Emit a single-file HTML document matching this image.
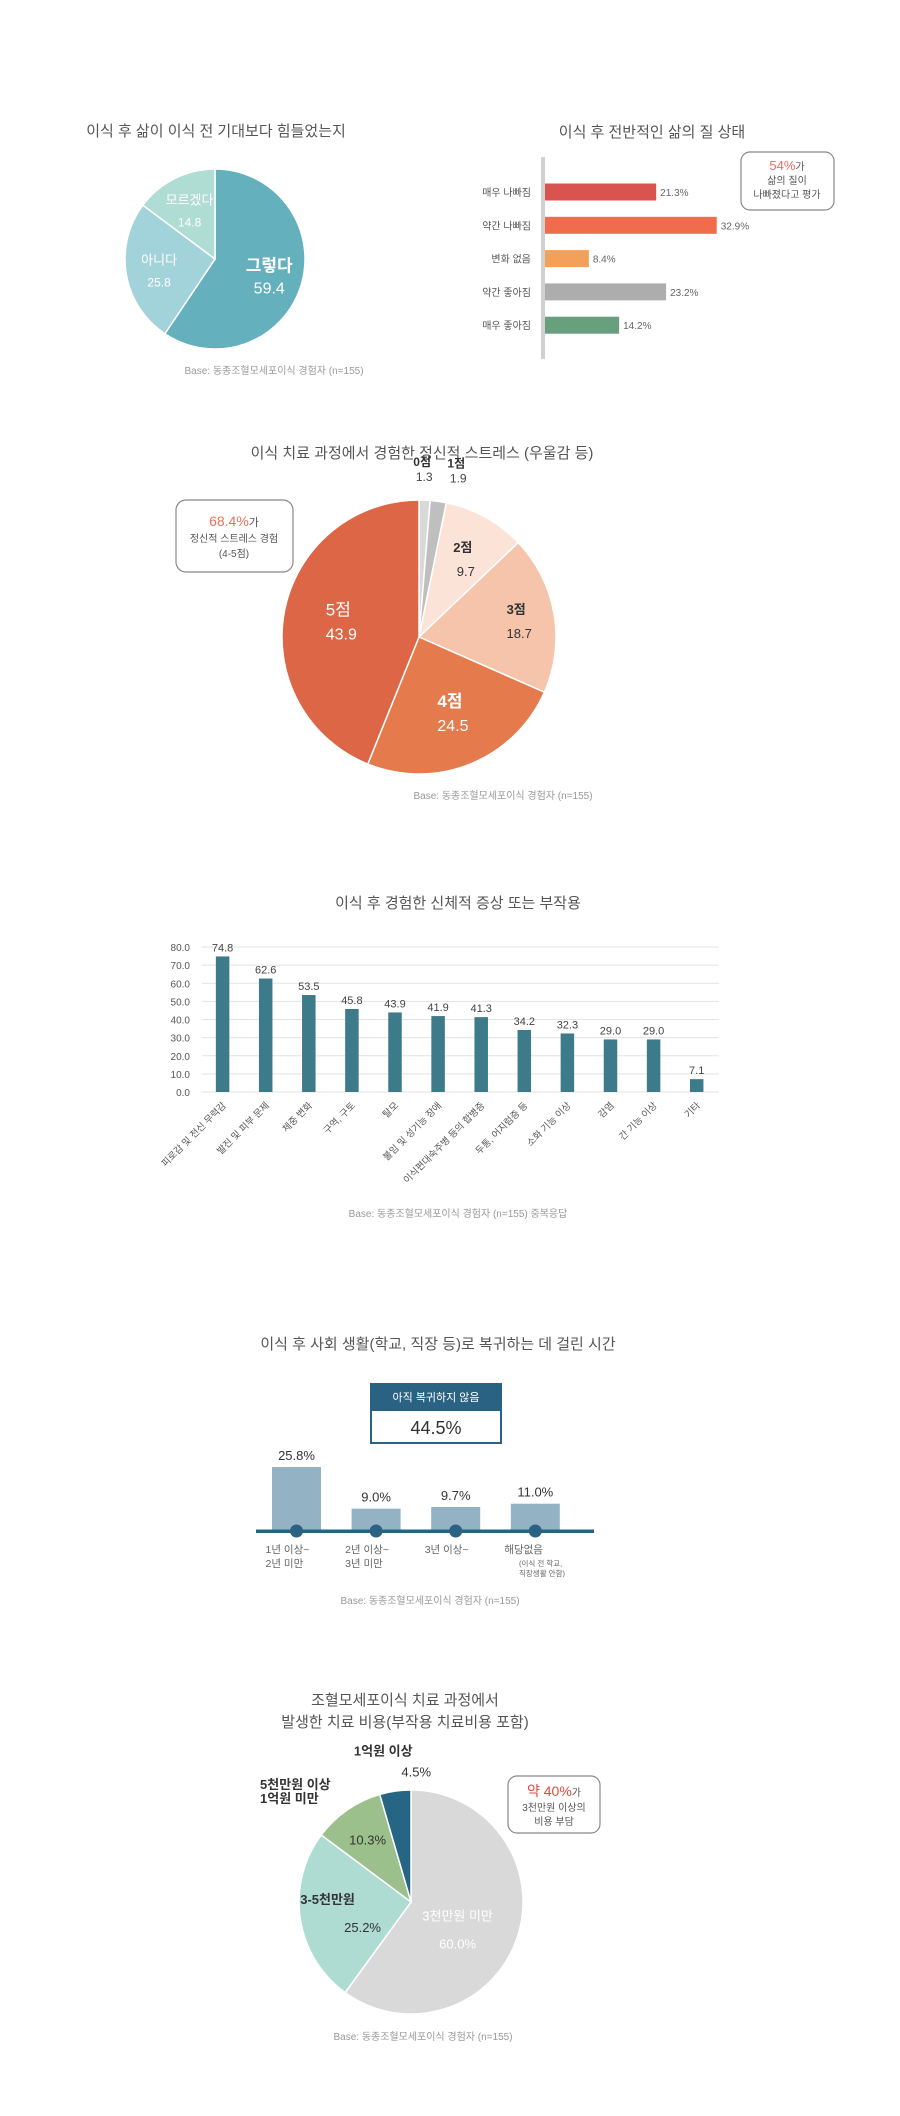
<!DOCTYPE html>
<html><head><meta charset="utf-8"><style>
html,body{margin:0;padding:0;background:#fff;}
svg{display:block;font-family:"Liberation Sans","Noto Sans CJK KR",sans-serif;}
</style></head><body>
<svg id="page" width="900" height="2116" viewBox="0 0 900 2116" xmlns="http://www.w3.org/2000/svg">
<g id="c1">
<text x="216" y="136" text-anchor="middle" font-size="15" fill="#555">이식 후 삶이 이식 전 기대보다 힘들었는지</text>
<text x="274" y="374" text-anchor="middle" font-size="10" fill="#999">Base: 동종조혈모세포이식 경험자 (n=155)</text>
</g>
<g id="c2">
<text x="652" y="137" text-anchor="middle" font-size="15" fill="#555">이식 후 전반적인 삶의 질 상태</text>
<rect x="541" y="157" width="4" height="202" fill="#d0d0d0"/>
<g>
<rect x="741" y="152" width="93" height="58" rx="9" fill="#fff" stroke="#888" stroke-width="1.2"/>
<text x="787" y="170" text-anchor="middle" font-size="13" fill="#e8705f">54%<tspan font-size="10" fill="#555">가</tspan></text>
<text x="787" y="184" text-anchor="middle" font-size="10" fill="#555">삶의 질이</text>
<text x="787" y="198" text-anchor="middle" font-size="10" fill="#555">나빠졌다고 평가</text>
</g>
</g>
<g id="c3">
<text x="422" y="458" text-anchor="middle" font-size="15" fill="#555">이식 치료 과정에서 경험한 정신적 스트레스 (우울감 등)</text>
<g>
<rect x="176" y="500" width="117" height="72" rx="10" fill="#fff" stroke="#888" stroke-width="1.2"/>
<text x="234" y="526" text-anchor="middle" font-size="14" fill="#e8705f">68.4%<tspan font-size="11" fill="#555">가</tspan></text>
<text x="234" y="542" text-anchor="middle" font-size="10" fill="#555">정신적 스트레스 경험</text>
<text x="234" y="557" text-anchor="middle" font-size="10" fill="#555">(4-5점)</text>
</g>
<text x="503" y="799" text-anchor="middle" font-size="10" fill="#999">Base: 동종조혈모세포이식 경험자 (n=155)</text>
</g>
<g id="c4">
<text x="458" y="908" text-anchor="middle" font-size="15" fill="#555">이식 후 경험한 신체적 증상 또는 부작용</text>
<text x="458" y="1217" text-anchor="middle" font-size="10" fill="#999">Base: 동종조혈모세포이식 경험자 (n=155) 중복응답</text>
</g>
<g id="c5">
<text x="438" y="1349" text-anchor="middle" font-size="15" fill="#555">이식 후 사회 생활(학교, 직장 등)로 복귀하는 데 걸린 시간</text>
<g>
<rect x="371" y="1384" width="130" height="59" fill="#fff" stroke="#2a6283" stroke-width="2"/>
<rect x="371" y="1384" width="130" height="27" fill="#2a6283"/>
<text x="436" y="1401" text-anchor="middle" font-size="11" fill="#fff">아직 복귀하지 않음</text>
<text x="436" y="1434" text-anchor="middle" font-size="18" fill="#333">44.5%</text>
</g>
<text x="430" y="1604" text-anchor="middle" font-size="10" fill="#999">Base: 동종조혈모세포이식 경험자 (n=155)</text>
</g>
<g id="c6">
<text x="405" y="1705" text-anchor="middle" font-size="15" fill="#555">조혈모세포이식 치료 과정에서</text>
<text x="405" y="1727" text-anchor="middle" font-size="15" fill="#555">발생한 치료 비용(부작용 치료비용 포함)</text>
<g>
<rect x="508" y="1776" width="92" height="57" rx="9" fill="#fff" stroke="#888" stroke-width="1.2"/>
<text x="554" y="1796" text-anchor="middle" font-size="14" fill="#e8473c">약 40%<tspan font-size="10" fill="#555">가</tspan></text>
<text x="554" y="1811" text-anchor="middle" font-size="10" fill="#555">3천만원 이상의</text>
<text x="554" y="1825" text-anchor="middle" font-size="10" fill="#555">비용 부담</text>
</g>
<text x="423" y="2040" text-anchor="middle" font-size="10" fill="#999">Base: 동종조혈모세포이식 경험자 (n=155)</text>
</g>
</svg>
<script>
// ---- data ----
const pie1Labels = ['그렇다','아니다','모르겠다'];
const pie1Values = [59.4, 25.8, 14.8];
const qolCategories = ['매우 나빠짐','약간 나빠짐','변화 없음','약간 좋아짐','매우 좋아짐'];
const qolValues = [21.3, 32.9, 8.4, 23.2, 14.2];
const stressLabels = ['0점','1점','2점','3점','4점','5점'];
const stressValues = [1.3, 1.9, 9.7, 18.7, 24.5, 43.9];
const symptomCategories = ['피로감 및 전신 무력감','발진 및 피부 문제','체중 변화','구역, 구토','탈모','불임 및 성기능 장애','이식편대숙주병 등의 합병증','두통, 어지럼증 등','소화 기능 이상','감염','간 기능 이상','기타'];
const symptomValues = [74.8, 62.6, 53.5, 45.8, 43.9, 41.9, 41.3, 34.2, 32.3, 29.0, 29.0, 7.1];
const symptomTicks = [0, 10, 20, 30, 40, 50, 60, 70, 80];
const returnCategories = [['1년 이상~','2년 미만'],['2년 이상~','3년 미만'],['3년 이상~'],['해당없음']];
const returnValues = [25.8, 9.0, 9.7, 11.0];
const costLabels = ['3천만원 미만','3-5천만원','5천만원 이상 1억원 미만','1억원 이상'];
const costValues = [60.0, 25.2, 10.3, 4.5];

const NS = 'http://www.w3.org/2000/svg';
function mk(parent, tag, attrs, text) {
  const e = document.createElementNS(NS, tag);
  for (const k in attrs) e.setAttribute(k, attrs[k]);
  if (text !== undefined) e.textContent = text;
  parent.appendChild(e);
  return e;
}
function pieAngles(values) {
  const total = values.reduce((a, b) => a + b, 0);
  let c = 0;
  return values.map(v => { const a0 = c / total * 2 * Math.PI; c += v; const a1 = c / total * 2 * Math.PI; return [a0, a1]; });
}
function pt(cx, cy, r, a) { return [cx + r * Math.sin(a), cy - r * Math.cos(a)]; }
function drawPie(g, cx, cy, r, values, colors, name) {
  const angs = pieAngles(values);
  angs.forEach((an, i) => {
    const p0 = pt(cx, cy, r, an[0]), p1 = pt(cx, cy, r, an[1]);
    const large = an[1] - an[0] > Math.PI ? 1 : 0;
    const p = mk(g, 'path', { d: `M${cx},${cy} L${p0[0]},${p0[1]} A${r},${r} 0 ${large} 1 ${p1[0]},${p1[1]} Z`, fill: colors[i], stroke: '#fff', 'stroke-width': 1.5 });
    
    
  });
  return angs;
}
function lbl(g, x, y, t, size, fill, weight, anchor) {
  const e = mk(g, 'text', { x: x, y: y, 'text-anchor': anchor || 'middle', 'font-size': size, fill: fill, 'font-weight': weight || 'normal' }, t);
  
  
  return e;
}

// ---- chart 1 ----
(function () {
  const g = document.getElementById('c1');
  const cx = 215, cy = 259, r = 90;
  const angs = drawPie(g, cx, cy, r, pie1Values, ['#64b0bd', '#a3d3da', '#afdcd3'], 'life-harder');
  angs.forEach((an, i) => {
    const m = (an[0] + an[1]) / 2;
    const p = pt(cx, cy, r * 0.63, m);
    lbl(g, p[0], p[1] - 4, pie1Labels[i], i === 0 ? 17 : 13, '#fff', i === 0 ? 'bold' : 'normal');
    lbl(g, p[0], p[1] + 18, pie1Values[i].toFixed(1), i === 0 ? 16 : 12, '#fff');
  });
})();

// ---- chart 2 ----
(function () {
  const g = document.getElementById('c2');
  const x0 = 545, scale = 5.22, y0 = 192, step = 33.3, h = 17;
  const colors = ['#d9534f', '#ef6c4c', '#f2a05a', '#adadad', '#689f7d'];
  qolValues.forEach((v, i) => {
    const y = y0 + i * step;
    const b = mk(g, 'rect', { x: x0, y: y - h / 2, width: v * scale, height: h, fill: colors[i] });
    
    
    const c = mk(g, 'text', { x: 531, y: y + 4, 'text-anchor': 'end', 'font-size': 10, fill: '#555' }, qolCategories[i]);
    
    
    const t = mk(g, 'text', { x: x0 + v * scale + 4, y: y + 4, 'font-size': 10, fill: '#666' }, v.toFixed(1) + '%');
    
    
  });
})();

// ---- chart 3 ----
(function () {
  const g = document.getElementById('c3');
  const cx = 419, cy = 637, r = 137;
  const angs = drawPie(g, cx, cy, r, stressValues, ['#d9d9d9', '#bfbfbf', '#fce3d8', '#f5c4ab', '#e57b4c', '#dd6647'], 'stress');
  // outside labels for tiny slices
  [0, 1].forEach(i => {
    const m = (angs[i][0] + angs[i][1]) / 2;
    const p = pt(cx, cy, r + 14, m);
    const dx = i === 0 ? -3 : 16;
    lbl(g, p[0] + dx, p[1] - 20, stressLabels[i], 12, '#333', 'bold');
    lbl(g, p[0] + dx + 2, p[1] - 5, stressValues[i].toFixed(1), 12, '#444');
  });
  const f = [0, 0, 0.66, 0.72, 0.6, 0.6];
  for (let i = 2; i < 6; i++) {
    const m = (angs[i][0] + angs[i][1]) / 2;
    const p = pt(cx, cy, r * f[i], m);
    const light = i >= 4;
    lbl(g, p[0], p[1] - 6, stressLabels[i], light ? 17 : 13, light ? '#fff' : '#333', i === 4 ? 'bold' : (light ? 'normal' : 'bold'));
    lbl(g, p[0] + 3, p[1] + 18, stressValues[i].toFixed(1), light ? 16 : 13, light ? '#fff' : '#333');
  }
})();

// ---- chart 4 ----
(function () {
  const g = document.getElementById('c4');
  const yBase = 1092, yTop = 947, maxV = 80;
  const xStart = 202, xEnd = 719, first = 222.6, step = 43.1, bw = 13.5;
  const yS = v => yBase - v / maxV * (yBase - yTop);
  symptomTicks.forEach(t => {
    const l = mk(g, 'line', { x1: xStart, x2: xEnd, y1: yS(t), y2: yS(t), stroke: '#e3e3e3', 'stroke-width': 1 });
    
    
    const tx = mk(g, 'text', { x: 190, y: yS(t) + 4, 'text-anchor': 'end', 'font-size': 10, fill: '#555' }, t.toFixed(1));
    
    
  });
  symptomValues.forEach((v, i) => {
    const cx = first + i * step;
    const b = mk(g, 'rect', { x: cx - bw / 2, y: yS(v), width: bw, height: yBase - yS(v), fill: '#3d7a8a' });
    
    
    const t = mk(g, 'text', { x: cx, y: yS(v) - 5, 'text-anchor': 'middle', 'font-size': 11, fill: '#444' }, v.toFixed(1));
    
    
    const c = mk(g, 'text', { x: cx + 4, y: yBase + 14, 'text-anchor': 'end', 'font-size': 9.5, fill: '#555', transform: `rotate(-45 ${cx + 4} ${yBase + 14})` }, symptomCategories[i]);
    
    
  });
})();

// ---- chart 5 ----
(function () {
  const g = document.getElementById('c5');
  const yBase = 1531, scale = 2.48, first = 296.5, step = 79.6, bw = 49;
  returnValues.forEach((v, i) => {
    const cx = first + i * step;
    const b = mk(g, 'rect', { x: cx - bw / 2, y: yBase - v * scale, width: bw, height: v * scale, fill: '#93b3c4' });
    
    
    const t = mk(g, 'text', { x: cx, y: yBase - v * scale - 7, 'text-anchor': 'middle', 'font-size': 13, fill: '#333' }, v.toFixed(1) + '%');
    
    
  });
  const ln = mk(g, 'rect', { x: 256, y: yBase - 1.5, width: 338, height: 3.5, fill: '#2a6283' });
  
  
  returnValues.forEach((v, i) => {
    const cx = first + i * step;
    const c = mk(g, 'circle', { cx: cx, cy: yBase, r: 6.5, fill: '#2a6283' });
    
    
    returnCategories[i].forEach((line, k) => {
      const t = mk(g, 'text', { x: cx - 31, y: yBase + 22 + k * 14, 'font-size': 10.5, fill: '#666' }, line);
      
      
    });
  });
  const n1 = mk(g, 'text', { x: 519, y: 1566, 'font-size': 7.5, fill: '#666' }, '(이식 전 학교,');
  
  
  const n2 = mk(g, 'text', { x: 519, y: 1576, 'font-size': 7.5, fill: '#666' }, '직장생활 안함)');
  
  
})();

// ---- chart 6 ----
(function () {
  const g = document.getElementById('c6');
  const cx = 411, cy = 1902, r = 112;
  const angs = drawPie(g, cx, cy, r, costValues, ['#d9d9d9', '#aedcd2', '#9bc08c', '#266584'], 'cost');
  let m = (angs[0][0] + angs[0][1]) / 2;
  let p = pt(cx, cy, r * 0.47, m + 0.17);
  lbl(g, p[0], p[1] - 6, costLabels[0], 13, '#fff');
  lbl(g, p[0], p[1] + 22, costValues[0].toFixed(1) + '%', 13, '#fff');
  m = (angs[1][0] + angs[1][1]) / 2;
  p = pt(cx, cy, r * 0.6, m);
  lbl(g, p[0] - 17, p[1] - 8, costLabels[1], 13, '#333', 'bold');
  lbl(g, p[0] + 18, p[1] + 20, costValues[1].toFixed(1) + '%', 13, '#333');
  m = (angs[2][0] + angs[2][1]) / 2;
  p = pt(cx, cy, r * 0.68, m);
  lbl(g, p[0], p[1] + 5, costValues[2].toFixed(1) + '%', 13, '#333');
  lbl(g, 260, 1789, '5천만원 이상', 13, '#333', 'bold', 'start');
  lbl(g, 260, 1803, '1억원 미만', 13, '#333', 'bold', 'start');
  m = (angs[3][0] + angs[3][1]) / 2;
  p = pt(cx, cy, r + 14, m);
  lbl(g, p[0] - 10, p[1] - 22, costLabels[3], 13, '#333', 'bold');
  lbl(g, p[0] + 23, p[1] - 1, costValues[3].toFixed(1) + '%', 13, '#333');
})();
</script>
</body></html>
